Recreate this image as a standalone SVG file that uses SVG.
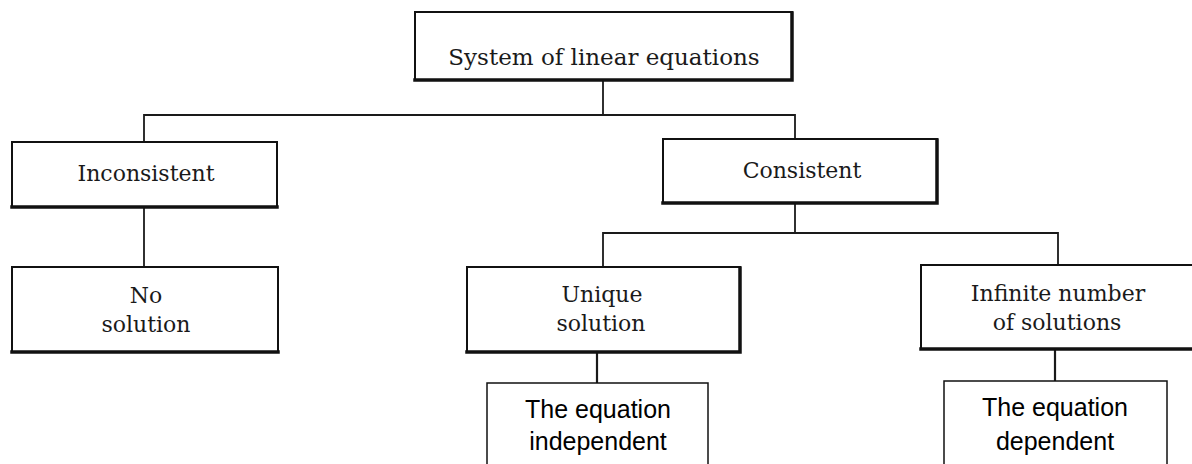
<svg xmlns="http://www.w3.org/2000/svg" width="1192" height="464" viewBox="0 0 1192 464">
  <style>
    .box { fill: #ffffff; stroke: #111111; stroke-width: 2; }
    .shadow { fill: none; stroke: #111111; stroke-width: 3.5; stroke-linecap: square; }
    .sbox { fill: #ffffff; stroke: #111111; stroke-width: 1.5; }
    .serif { font-family: "DejaVu Serif", "Liberation Serif", serif; font-size: 22px; fill: #1a1a1a; text-anchor: middle; }
    .sans { font-family: "Liberation Sans", Arial, sans-serif; font-size: 25px; fill: #000000; text-anchor: middle; }
    .conn { fill: none; stroke: #1a1a1a; stroke-width: 1.8; }
  </style>
  <rect width="1192" height="464" fill="#ffffff"/>

  <g id="connectors">
    <path class="conn" d="M603 80 V115"/>
    <path class="conn" d="M144 142 V115 H795 V139"/>
    <path class="conn" d="M144 207 V267"/>
    <path class="conn" d="M795 203 V233"/>
    <path class="conn" d="M603 267 V233 H1058 V265"/>
    <path class="conn" d="M597 352 V386" style="stroke-width:2.2"/>
    <path class="conn" d="M1055 349 V386" style="stroke-width:2.2"/>
  </g>

  <g id="system">
    <rect class="box" x="415" y="12" width="377" height="68"/>
    <path class="shadow" d="M415 80 H792 V13"/>
    <text class="serif" x="604" y="65" style="font-size:23px">System of linear equations</text>
  </g>

  <g id="inconsistent">
    <rect class="box" x="12" y="142" width="265" height="65"/>
    <path class="shadow" d="M12 207 H277"/>
    <text class="serif" x="146" y="181">Inconsistent</text>
  </g>

  <g id="no-solution">
    <rect class="box" x="12" y="267" width="266" height="85"/>
    <path class="shadow" d="M12 352 H278"/>
    <text class="serif" x="146" y="303">No</text>
    <text class="serif" x="146" y="332">solution</text>
  </g>

  <g id="consistent">
    <rect class="box" x="663" y="139" width="274" height="64"/>
    <path class="shadow" d="M663 203 H937 V140"/>
    <text class="serif" x="802" y="178">Consistent</text>
  </g>

  <g id="unique">
    <rect class="box" x="467" y="267" width="273" height="85"/>
    <path class="shadow" d="M467 352 H740 V268"/>
    <text class="serif" x="602" y="302">Unique</text>
    <text class="serif" x="601" y="331">solution</text>
  </g>

  <g id="infinite">
    <rect class="box" x="921" y="265" width="280" height="84"/>
    <path class="shadow" d="M921 349 H1200"/>
    <text class="serif" x="1058" y="301">Infinite number</text>
    <text class="serif" x="1057" y="330">of solutions</text>
  </g>

  <g id="independent">
    <rect class="sbox" x="487" y="383" width="221" height="90"/>
    <text class="sans" x="598" y="418">The equation</text>
    <text class="sans" x="598" y="450">independent</text>
  </g>

  <g id="dependent">
    <rect class="sbox" x="944" y="381" width="223" height="92"/>
    <text class="sans" x="1055" y="416">The equation</text>
    <text class="sans" x="1055" y="450">dependent</text>
  </g>
</svg>
